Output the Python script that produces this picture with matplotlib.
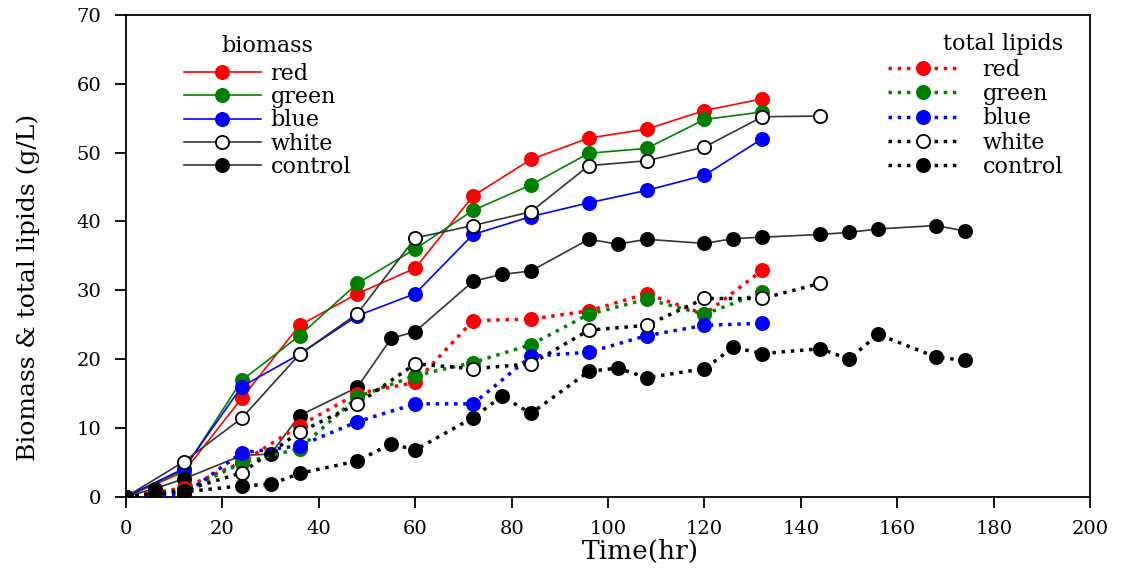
import matplotlib
matplotlib.use("Agg")
import matplotlib.pyplot as plt

plt.rcParams['font.family'] = ['DejaVu Serif']

# --- biomass (solid lines) ---
t_light = [0, 12, 24, 36, 48, 60, 72, 84, 96, 108, 120, 132]
t_white = [0, 12, 24, 36, 48, 60, 72, 84, 96, 108, 120, 132, 144]
t_control = [0, 6, 12, 24, 30, 36, 48, 55, 60, 72, 78, 84, 96, 102, 108,
             120, 126, 132, 144, 150, 156, 168, 174]

bio_red = [0, 3.6, 14.3, 24.9, 29.5, 33.2, 43.7, 49.0, 52.1, 53.4, 56.1, 57.8]
bio_green = [0, 3.9, 16.9, 23.4, 31.0, 36.0, 41.6, 45.3, 49.9, 50.6, 54.8, 55.9]
bio_blue = [0, 4.1, 16.0, 20.7, 26.3, 29.5, 38.1, 40.7, 42.7, 44.5, 46.7, 52.0]
bio_white = [0, 5.1, 11.4, 20.7, 26.6, 37.6, 39.4, 41.4, 48.1, 48.8, 50.8, 55.2, 55.3]
bio_control = [0, 1.2, 2.6, 6.0, 6.2, 11.8, 15.9, 23.0, 24.0, 31.3, 32.3, 32.8,
               37.4, 36.7, 37.4, 36.8, 37.5, 37.7, 38.1, 38.4, 38.9, 39.4, 38.6]

# --- total lipids (dotted lines) ---
lip_red = [0, 1.3, 5.0, 10.3, 15.0, 16.6, 25.6, 25.8, 27.0, 29.5, 26.5, 32.9]
lip_green = [0, 0.8, 4.9, 7.0, 14.5, 17.6, 19.5, 22.1, 26.5, 28.7, 26.5, 29.7]
lip_blue = [0, 0.3, 6.4, 7.4, 10.9, 13.5, 13.5, 20.4, 21.0, 23.4, 24.9, 25.2]
lip_white = [0, 0.9, 3.5, 9.4, 13.5, 19.3, 18.6, 19.3, 24.2, 24.9, 28.8, 28.8, 31.0]
lip_control = [0, 0.5, 0.7, 1.6, 1.8, 3.4, 5.2, 7.7, 6.8, 11.5, 14.6, 12.1,
               18.2, 18.7, 17.3, 18.6, 21.7, 20.8, 21.5, 20.0, 23.6, 20.3, 19.8]

labels = ['red', 'green', 'blue', 'white', 'control']
colors = ['red', 'green', 'blue', 'black', 'black']
faces = ['red', 'green', 'blue', 'white', 'black']
times = [t_light, t_light, t_light, t_white, t_control]
bio = [bio_red, bio_green, bio_blue, bio_white, bio_control]
lip = [lip_red, lip_green, lip_blue, lip_white, lip_control]

fig = plt.figure(figsize=(11.25, 5.71), dpi=100)
ax = fig.add_axes([0.112, 0.13, 0.857, 0.844])

ms = 9.5
bio_handles = []
lip_handles = []
for lab, c, fc, t, y in zip(labels, colors, faces, times, bio):
    line_c = '#333333' if c == 'black' else c
    h, = ax.plot(t, y, '-', color=line_c, lw=1.2, marker='o', ms=ms,
                 mfc=fc, mec=c, mew=1.3, label=lab, zorder=3)
    bio_handles.append(h)
for lab, c, fc, t, y in zip(labels, colors, faces, times, lip):
    h, = ax.plot(t, y, ':', color=c, lw=2.5, marker='o', ms=ms,
                 mfc=fc, mec=c, mew=1.3, label=lab, zorder=3)
    lip_handles.append(h)

ax.set_xlim(0, 200)
ax.set_ylim(0, 70)
ax.set_xticks(range(0, 201, 20))
ax.set_yticks(range(0, 71, 10))
ax.tick_params(direction='out', length=8, width=1.3, labelsize=14)
for s in ax.spines.values():
    s.set_linewidth(1.3)
ax.tick_params(axis='x', pad=9)
ax.tick_params(axis='y', pad=10)

ax.set_xlabel('Time(hr)', fontsize=19)
ax.xaxis.set_label_coords(0.533, -0.088)
ax.set_ylabel('Biomass & total lipids (g/L)', fontsize=18)
ax.yaxis.set_label_coords(-0.089, 0.434)

leg1 = ax.legend(handles=bio_handles, title='biomass', loc='upper left',
                 bbox_to_anchor=(0.06, 0.958), frameon=False, fontsize=16,
                 title_fontsize=16, handlelength=3.45, handletextpad=0.45,
                 labelspacing=0.06, borderaxespad=0, borderpad=0)
leg1._legend_box.sep = 4
ax.add_artist(leg1)
leg2 = ax.legend(handles=lip_handles, title='total lipids', loc='upper right',
                 bbox_to_anchor=(0.972, 0.963), frameon=False, fontsize=16,
                 title_fontsize=16, handlelength=3.15, handletextpad=1.1,
                 labelspacing=0.1, borderaxespad=0, borderpad=0)
leg2._legend_box.align = 'right'
leg2._legend_box.sep = 3

fig.savefig('out.png', dpi=100)
